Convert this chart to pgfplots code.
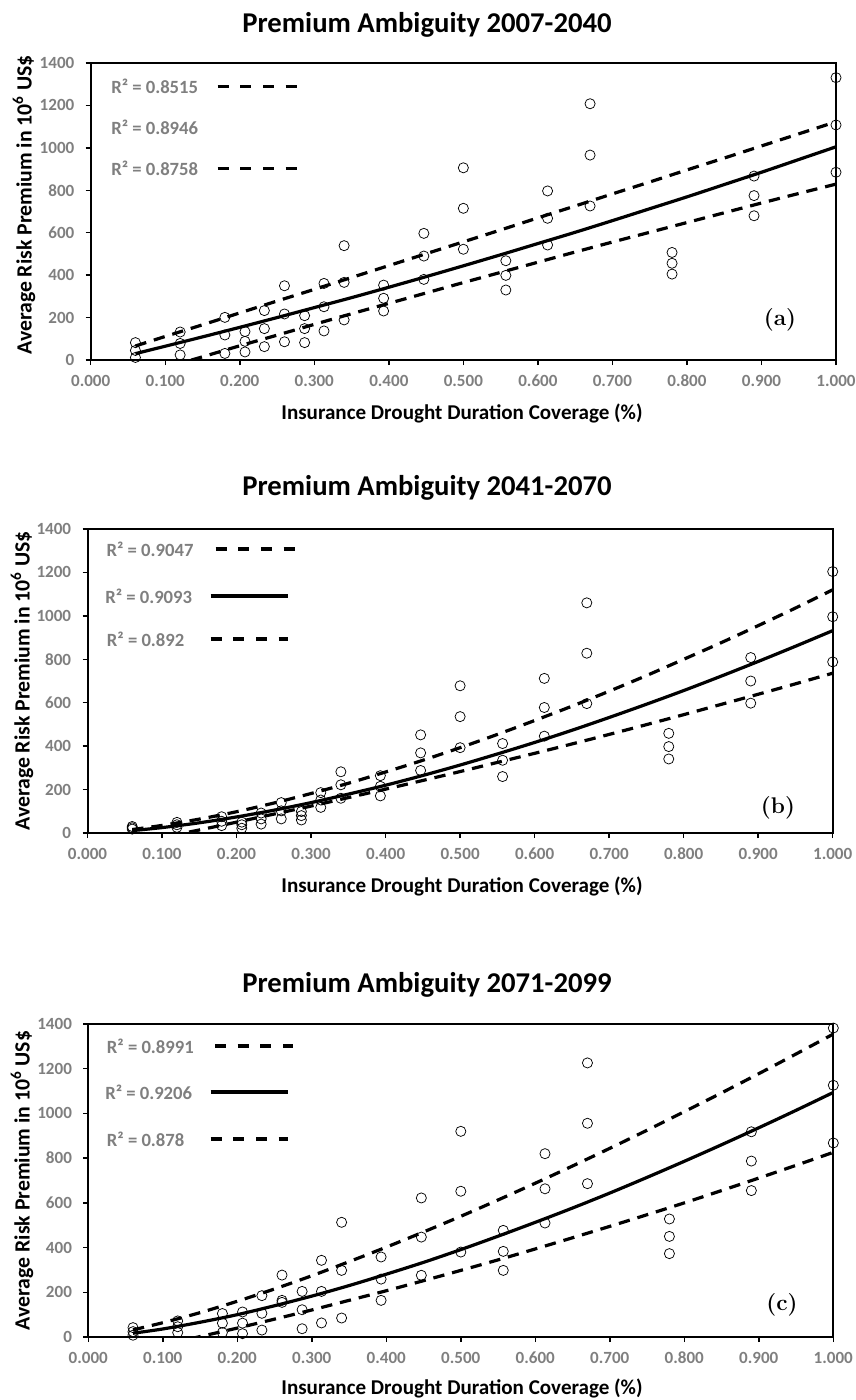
\documentclass[border=0pt]{standalone}
\usepackage{pgfplots}
\pgfplotsset{compat=1.18}
\usepackage{fontspec}
\newfontfamily\calib{Carlito}
\definecolor{tickgray}{HTML}{7F7F7F}
\pgfplotsset{
  panel/.style={
    scale only axis, anchor=south west,
    xmin=0, xmax=1, ymin=0, ymax=1400,
    xtick={0,0.1,0.2,0.3,0.4,0.5,0.6,0.7,0.8,0.9,1.0},
    ytick={0,200,400,600,800,1000,1200,1400},
    xtick pos=bottom, ytick pos=left, tick align=outside,
    major tick length=3.75pt,
    every tick/.style={black, line width=1.1pt},
    axis line style={line width=1.5pt},
    x tick label style={/pgf/number format/fixed, /pgf/number format/fixed zerofill, /pgf/number format/precision=3, /pgf/number format/assume math mode=true, yshift=-4pt},
    y tick label style={/pgf/number format/fixed, /pgf/number format/precision=0, /pgf/number format/1000 sep={}, /pgf/number format/assume math mode=true, xshift=-5pt},
    tick label style={font=\calib\bfseries\fontsize{12.8}{14}\selectfont, text=tickgray},
    clip mode=individual,
  },
  pts/.style={only marks, mark=o, mark size=3.8pt, mark options={line width=0.55pt, black}},
  fitsolid/.style={no marks, black, line width=2.4pt, smooth},
  fitdash/.style={no marks, black, line width=2.4pt, smooth, dash pattern=on 8.5pt off 6pt},
}
\begin{document}
\begin{tikzpicture}
\path[use as bounding box] (0,0) rectangle (642pt,-1050pt);

% ---------------- (a) ----------------
\begin{axis}[panel, at={(68.03pt,-270pt)}, width=558.98pt, height=222.75pt]
\addplot[pts] coordinates {
(0.06,82)(0.06,45)(0.06,12)
(0.12,132)(0.12,78)(0.12,24)
(0.18,201)(0.18,118)(0.18,31)
(0.207,134)(0.207,88)(0.207,38)
(0.233,233)(0.233,148)(0.233,63)
(0.26,350)(0.26,217)(0.26,86)
(0.287,209)(0.287,148)(0.287,82)
(0.313,361)(0.313,251)(0.313,137)
(0.34,539)(0.34,366)(0.34,189)
(0.393,353)(0.393,291)(0.393,231)
(0.447,597)(0.447,490)(0.447,380)
(0.5,906)(0.5,715)(0.5,522)
(0.557,468)(0.557,399)(0.557,330)
(0.613,797)(0.613,668)(0.613,542)
(0.67,1208)(0.67,966)(0.67,726)
(0.78,507)(0.78,456)(0.78,405)
(0.89,867)(0.89,775)(0.89,680)
(1.0,1331)(1.0,1108)(1.0,885)};
\addplot[fitdash] coordinates {(0.06,66)(0.1,111)(0.15,166)(0.2,222)(0.25,278)(0.3,333)(0.35,389)(0.4,445)(0.45,501)(0.5,557)(0.55,613)(0.6,670)(0.65,726)(0.7,783)(0.75,839)(0.8,896)(0.85,952)(0.9,1009)(0.95,1066)(1.0,1123)};
\addplot[fitsolid] coordinates {(0.06,30)(0.1,65)(0.15,109)(0.2,154)(0.25,200)(0.3,247)(0.35,294)(0.4,343)(0.45,393)(0.5,444)(0.55,496)(0.6,549)(0.65,602)(0.7,657)(0.75,713)(0.8,769)(0.85,827)(0.9,885)(0.95,945)(1.0,1005)};
\addplot[fitdash] coordinates {(0.06,-78)(0.1,-36)(0.15,15)(0.2,67)(0.25,117)(0.3,168)(0.35,218)(0.4,267)(0.45,316)(0.5,365)(0.55,413)(0.6,461)(0.65,509)(0.7,556)(0.75,602)(0.8,648)(0.85,694)(0.9,740)(0.95,785)(1.0,829)};
\end{axis}

% ---------------- (b) ----------------
\begin{axis}[panel, at={(65.63pt,-624.75pt)}, width=558.9pt, height=228pt]
\addplot[pts] coordinates {
(0.06,30)(0.06,24)(0.06,18)
(0.12,49)(0.12,38)(0.12,26)
(0.18,75)(0.18,54)(0.18,34)
(0.207,50)(0.207,38)(0.207,22)
(0.233,92)(0.233,65)(0.233,41)
(0.26,140)(0.26,102)(0.26,65)
(0.287,99)(0.287,80)(0.287,60)
(0.313,186)(0.313,152)(0.313,118)
(0.34,282)(0.34,222)(0.34,160)
(0.393,264)(0.393,215)(0.393,171)
(0.447,452)(0.447,369)(0.447,288)
(0.5,678)(0.5,536)(0.5,393)
(0.557,412)(0.557,335)(0.557,260)
(0.613,712)(0.613,578)(0.613,446)
(0.67,1060)(0.67,828)(0.67,596)
(0.78,459)(0.78,398)(0.78,341)
(0.89,808)(0.89,700)(0.89,598)
(1.0,1204)(1.0,996)(1.0,788)};
\addplot[fitdash] coordinates {(0.06,16)(0.1,35)(0.15,64)(0.2,98)(0.25,138)(0.3,182)(0.35,229)(0.4,281)(0.45,335)(0.5,393)(0.55,454)(0.6,518)(0.65,584)(0.7,653)(0.75,725)(0.8,800)(0.85,876)(0.9,955)(0.95,1036)(1.0,1120)};
\addplot[fitsolid] coordinates {(0.06,11)(0.1,25)(0.15,47)(0.2,74)(0.25,105)(0.3,140)(0.35,179)(0.4,220)(0.45,265)(0.5,313)(0.55,364)(0.6,417)(0.65,473)(0.7,532)(0.75,593)(0.8,656)(0.85,722)(0.9,790)(0.95,860)(1.0,932)};
\addplot[fitdash] coordinates {(0.06,-49)(0.1,-21)(0.15,14)(0.2,50)(0.25,87)(0.3,124)(0.35,163)(0.4,202)(0.45,242)(0.5,283)(0.55,325)(0.6,367)(0.65,410)(0.7,454)(0.75,499)(0.8,545)(0.85,592)(0.9,639)(0.95,687)(1.0,736)};
\end{axis}

% ---------------- (c) ----------------
\begin{axis}[panel, at={(66.23pt,-1002.75pt)}, width=558.75pt, height=234.75pt]
\addplot[pts] coordinates {
(0.06,42)(0.06,24)(0.06,8)
(0.12,72)(0.12,46)(0.12,20)
(0.18,105)(0.18,62)(0.18,20)
(0.207,112)(0.207,62)(0.207,15)
(0.233,185)(0.233,106)(0.233,31)
(0.26,277)(0.26,164)(0.26,155)
(0.287,204)(0.287,122)(0.287,37)
(0.313,343)(0.313,204)(0.313,63)
(0.34,513)(0.34,298)(0.34,85)
(0.393,358)(0.393,259)(0.393,164)
(0.447,622)(0.447,447)(0.447,276)
(0.5,920)(0.5,652)(0.5,380)
(0.557,477)(0.557,383)(0.557,298)
(0.613,820)(0.613,663)(0.613,510)
(0.67,1226)(0.67,956)(0.67,686)
(0.78,528)(0.78,450)(0.78,373)
(0.89,918)(0.89,787)(0.89,655)
(1.0,1382)(1.0,1126)(1.0,868)};
\addplot[fitdash] coordinates {(0.06,32)(0.1,64)(0.15,109)(0.2,160)(0.25,215)(0.3,274)(0.35,337)(0.4,402)(0.45,470)(0.5,540)(0.55,613)(0.6,688)(0.65,765)(0.7,844)(0.75,925)(0.8,1008)(0.85,1092)(0.9,1178)(0.95,1266)(1.0,1355)};
\addplot[fitsolid] coordinates {(0.06,17)(0.1,36)(0.15,66)(0.2,100)(0.25,140)(0.3,183)(0.35,230)(0.4,281)(0.45,334)(0.5,391)(0.55,451)(0.6,513)(0.65,577)(0.7,644)(0.75,714)(0.8,786)(0.85,860)(0.9,936)(0.95,1014)(1.0,1094)};
\addplot[fitdash] coordinates {(0.06,-65)(0.1,-36)(0.15,2)(0.2,40)(0.25,80)(0.3,121)(0.35,164)(0.4,207)(0.45,252)(0.5,298)(0.55,345)(0.6,394)(0.65,444)(0.7,495)(0.75,547)(0.8,600)(0.85,655)(0.9,711)(0.95,768)(1.0,826)};
\end{axis}

\begin{scope}[x=0.75pt,y=-0.75pt]
\tikzset{ttl/.style={font=\calib\bfseries\fontsize{21.5}{25}\selectfont},
  xl/.style={font=\calib\bfseries\fontsize{15.8}{18}\selectfont},
  yl/.style={rotate=90,font=\calib\bfseries\fontsize{16.3}{19}\selectfont},
  rr/.style={anchor=west,inner sep=0pt,font=\calib\bfseries\fontsize{14}{16}\selectfont,text=tickgray},
  pl/.style={font=\bfseries\fontsize{17}{20}\selectfont},
  ls/.style={line width=2.5pt},
  ld/.style={line width=2.5pt,dash pattern=on 8.25pt off 8.75pt}}
% titles
\node[ttl] at (427,25) {Premium Ambiguity 2007-2040};
\node[ttl] at (427,488) {Premium Ambiguity 2041-2070};
\node[ttl] at (427,985) {Premium Ambiguity 2071-2099};
% x labels
\node[xl] at (462,413) {Insurance Drought Duration Coverage (\%)};
\node[xl] at (462,886) {Insurance Drought Duration Coverage (\%)};
\node[xl] at (462,1388) {Insurance Drought Duration Coverage (\%)};
% y labels
\node[yl] at (24,205) {Average Risk Premium in 10\textsuperscript{6} US\$};
\node[yl] at (22,681) {Average Risk Premium in 10\textsuperscript{6} US\$};
\node[yl] at (22,1180.5) {Average Risk Premium in 10\textsuperscript{6} US\$};
% panel letters
\node[pl] at (780,320) {(a)};
\node[pl] at (778,808) {(b)};
\node[pl] at (782,1305) {(c)};
% legends (a)
\node[rr] at (111,86.7) {R² = 0.8515};
\node[rr] at (111,127.3) {R² = 0.8946};
\node[rr] at (111,168.3) {R² = 0.8758};
\draw[ld] (217.7,86.7) -- (296.7,86.7);
\draw[ld] (217.7,168.3) -- (296.7,168.3);
% legends (b)
\node[rr] at (106.4,549) {R² = 0.9047};
\node[rr] at (105,596) {R² = 0.9093};
\node[rr] at (106.7,639) {R² = 0.892};
\draw[ld] (215.6,549) -- (294.8,549);
\draw[ls] (210.7,596) -- (288.3,596);
\draw[ld] (210.7,639) -- (288.3,639);
% legends (c)
\node[rr] at (106.7,1046) {R² = 0.8991};
\node[rr] at (105,1092) {R² = 0.9206};
\node[rr] at (106.7,1139) {R² = 0.878};
\draw[ld] (215,1046) -- (293.3,1046);
\draw[ls] (210.7,1092) -- (288.3,1092);
\draw[ld] (210.7,1139) -- (288.3,1139);
\end{scope}
\end{tikzpicture}
\end{document}
